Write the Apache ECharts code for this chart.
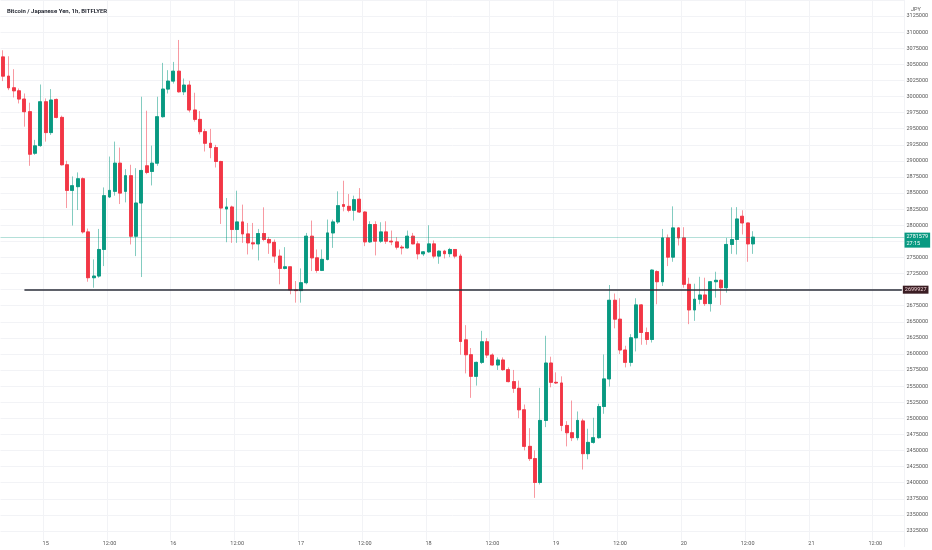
<!DOCTYPE html>
<html>
<head>
<meta charset="utf-8">
<title>BTC/JPY 1h</title>
<script src="https://cdn.jsdelivr.net/npm/echarts/dist/echarts.min.js"></script>
<style>
  html, body { margin: 0; padding: 0; background: #fff; }
  #chart { width: 932px; height: 550px; }
</style>
</head>
<body>
<div id="chart"></div>
<script>
// hourly candles, the first one opens on the 14th at 16:00
const startDay = 14
const startHour = 16
const slotCount = 170   // hours on the axis, the empty ones on the right included

const opens = [
  3061600, 3031700, 3013600, 3008900, 2996100, 2976500, 2911900, 2923800, 2991900, 2944000,
  2995500, 2967600, 2894000, 2854200, 2860000, 2872300, 2789700, 2718500, 2721100, 2762400,
  2844000, 2852700, 2896500, 2852700, 2877000, 2783000, 2834600, 2892400, 2883600, 2896500,
  2968700, 3011600, 3024000, 3039400, 3007400, 3017800, 2979100, 2964500, 2945500, 2927400,
  2920700, 2899100, 2825300, 2828400, 2793400, 2805200, 2786600, 2772700, 2771100, 2787200,
  2777900, 2773500, 2752100, 2733000, 2735500, 2699500, 2698500, 2710800, 2783000, 2749400,
  2729900, 2747000, 2788100, 2805200, 2832100, 2829400, 2823300, 2840500, 2820600, 2774200,
  2801100, 2775300, 2789700, 2775300, 2774200, 2766000, 2764800, 2783000, 2771100, 2755600,
  2758700, 2771100, 2752100, 2759800, 2755900, 2762400, 2752100, 2622000, 2598900, 2565300,
  2587000, 2619000, 2598400, 2582900, 2590700, 2575700, 2557100, 2546700, 2513300, 2456500,
  2437500, 2400400, 2496800, 2586000, 2556000, 2555000, 2489000, 2477700, 2470000, 2496000,
  2445200, 2462700, 2470000, 2518400, 2561300, 2683500, 2654100, 2606200, 2587000, 2625200,
  2676300, 2633400, 2622600, 2728000, 2712300, 2780400, 2750500, 2795900, 2780400, 2708300,
  2668500, 2685100, 2691700, 2678300, 2712300, 2714500, 2703000, 2770200, 2777900, 2814000,
  2803600, 2771100
]
const closes = [
  3031700, 3013600, 3008900, 2996100, 2976500, 2910400, 2923400, 2991900, 2944000, 2994600,
  2967600, 2894000, 2854200, 2861500, 2872300, 2789700, 2718500, 2721100, 2762400, 2846000,
  2854200, 2896500, 2850000, 2877000, 2783000, 2834600, 2885200, 2882100, 2896500, 2968700,
  3011600, 3024000, 3039400, 3007400, 3017800, 2979100, 2964500, 2945500, 2927400, 2920700,
  2899100, 2826800, 2828400, 2793400, 2805200, 2786600, 2772700, 2771100, 2787200, 2777900,
  2772700, 2752100, 2733000, 2735500, 2699500, 2698500, 2710800, 2783000, 2749400, 2729900,
  2747000, 2788100, 2805200, 2830500, 2829400, 2823300, 2839800, 2820600, 2774200, 2801100,
  2775300, 2789700, 2775300, 2774200, 2766000, 2764800, 2783000, 2771100, 2755600, 2758700,
  2771100, 2752100, 2759800, 2755900, 2762400, 2752100, 2619500, 2598900, 2565300, 2587000,
  2619000, 2598400, 2582900, 2590700, 2575700, 2557100, 2546700, 2513300, 2456500, 2437500,
  2400400, 2496800, 2586000, 2556000, 2555000, 2489000, 2477700, 2470000, 2496800, 2445200,
  2462700, 2470000, 2518400, 2561300, 2683500, 2654100, 2606200, 2587000, 2625200, 2676300,
  2633400, 2622600, 2730400, 2712300, 2780400, 2750500, 2795900, 2780400, 2708300, 2668500,
  2685100, 2691700, 2678300, 2712300, 2714500, 2703000, 2770200, 2777900, 2809800, 2803600,
  2771100, 2781579
]
const lows = [
  3024000, 3010000, 2998600, 2989300, 2953200, 2892400, 2909400, 2921800, 2930000, 2940400,
  2966100, 2892900, 2826800, 2799600, 2823700, 2787200, 2712300, 2703000, 2718500, 2736600,
  2842300, 2846000, 2833000, 2835600, 2770200, 2752100, 2719600, 2879400, 2861900, 2892400,
  2967200, 3004800, 3020200, 3006000, 3002300, 2975400, 2961000, 2941300, 2914600, 2904200,
  2889800, 2802100, 2773700, 2772700, 2772700, 2772700, 2754700, 2762400, 2745400, 2775300,
  2755600, 2741700, 2708300, 2731500, 2692800, 2679800, 2679800, 2708300, 2728900, 2726200,
  2728900, 2745400, 2764900, 2802100, 2821700, 2820200, 2807300, 2819100, 2767600, 2772700,
  2753200, 2772700, 2771100, 2769100, 2762400, 2754700, 2763800, 2770500, 2747000, 2752100,
  2757200, 2748500, 2740200, 2748500, 2750500, 2748500, 2598900, 2569900, 2531900, 2550900,
  2584500, 2593800, 2581900, 2575200, 2574100, 2556000, 2539600, 2500300, 2450300, 2433800,
  2376500, 2397300, 2486400, 2548300, 2553500, 2480200, 2456500, 2464700, 2465800, 2420500,
  2436400, 2460700, 2468400, 2507100, 2549400, 2639900, 2600000, 2579200, 2580800, 2604000,
  2614400, 2614400, 2617900, 2677300, 2705700, 2736600, 2743300, 2768600, 2703000, 2646400,
  2651500, 2677300, 2674700, 2665900, 2687600, 2676300, 2695300, 2755600, 2754700, 2785700,
  2743300, 2755600
]
const highs = [
  3071900, 3062600, 3042500, 3012500, 3004800, 2990400, 2932700, 3018700, 2997000, 3011600,
  2997000, 2970300, 2900200, 2875900, 2882100, 2874300, 2794900, 2747000, 2794300, 2858800,
  2906800, 2930000, 2920700, 2887200, 2894000, 2888700, 2999700, 2978000, 2923800, 2999700,
  3052300, 3041000, 3053800, 3087900, 3028000, 3024400, 3005900, 2977500, 2949700, 2949700,
  2924900, 2900200, 2842300, 2830500, 2853700, 2832100, 2803600, 2803600, 2794300, 2827900,
  2781900, 2777900, 2762400, 2766000, 2735600, 2713400, 2733000, 2788100, 2807300, 2762400,
  2762400, 2808900, 2808900, 2852700, 2869200, 2848500, 2846000, 2857800, 2821700, 2806200,
  2806200, 2804700, 2806200, 2791800, 2781500, 2769100, 2791800, 2788100, 2775300, 2759800,
  2800000, 2776400, 2760900, 2761800, 2764900, 2763000, 2755600, 2644800, 2609300, 2588100,
  2636000, 2624700, 2600900, 2594700, 2594700, 2579200, 2575200, 2558700, 2521500, 2484800,
  2450300, 2547400, 2628300, 2595800, 2571500, 2565300, 2495700, 2527700, 2510700, 2499400,
  2483900, 2500900, 2522600, 2599300, 2707200, 2694000, 2686600, 2612800, 2630900, 2686600,
  2677500, 2641100, 2731500, 2730000, 2794300, 2785700, 2829400, 2797000, 2797000, 2718500,
  2709200, 2720000, 2718500, 2713400, 2727800, 2716000, 2780400, 2827900, 2828200, 2823300,
  2804000, 2790800
]

// horizontal level drawn by hand, starting at the 5th candle
const levelPrice = 2699927
const levelStart = 4
const lastPrice = 2781579
const countdown = '27:15'

// price scale
const yMin = 2300000
const yMax = 3150000
const yStep = 25000

const upColor = '#089981'
const downColor = '#F23645'

// category labels: "15 00:00", "15 01:00", ...
const categories = []
for (let i = 0; i < slotCount; i++) {
  const t = startHour + i
  const day = startDay + Math.floor(t / 24)
  const hour = t % 24
  categories.push(day + ' ' + (hour < 10 ? '0' + hour : hour) + ':00')
}

function hourOf(cat) {
  return parseInt(cat.split(' ')[1], 10)
}
function isMajor(index, cat) {
  const h = hourOf(cat)
  return h === 0 || h === 12
}

const candleData = opens.map((o, i) => [o, closes[i], lows[i], highs[i]])
const bodyData = opens.map((o, i) => [o, closes[i], Math.min(o, closes[i]), Math.max(o, closes[i])])

const chart = echarts.init(document.getElementById('chart'), null, {renderer: 'canvas'})

chart.setOption({
  animation: false,
  backgroundColor: '#ffffff',
  textStyle: {fontFamily: 'Roboto, "Liberation Sans", sans-serif'},
  title: [
    {
      text: 'Bitcoin / Japanese Yen, 1h, BITFLYER',
      left: 2,
      top: 3,
      textStyle: {fontSize: 6, fontWeight: 600, color: '#131722'}
    },
    {
      text: 'JPY',
      left: 906,
      top: 2,
      textStyle: {fontSize: 5.5, fontWeight: 'normal', color: '#555'}
    }
  ],
  grid: {
    left: 0.5,
    width: 904,
    top: -2.2,
    height: 549.3
  },
  xAxis: {
    type: 'category',
    data: categories,
    boundaryGap: true,
    offset: -13,
    axisLine: {show: false},
    axisTick: {show: false},
    axisLabel: {
      interval: isMajor,
      fontSize: 5.5,
      color: '#555',
      margin: 6,
      backgroundColor: '#fff',
      padding: [1, 2],
      formatter: function (cat) {
        const h = hourOf(cat)
        return h === 0 ? cat.split(' ')[0] : '12:00'
      }
    },
    splitLine: {
      show: true,
      interval: isMajor,
      lineStyle: {color: '#f2f3f6', width: 1}
    }
  },
  yAxis: {
    type: 'value',
    position: 'right',
    min: yMin,
    max: yMax,
    interval: yStep,
    scale: true,
    axisLine: {show: false},
    axisTick: {show: false},
    axisLabel: {
      fontSize: 5.5,
      color: '#555',
      margin: 2,
      showMinLabel: false,
      showMaxLabel: false,
      formatter: function (v) { return String(v) }
    },
    splitLine: {
      show: true,
      showMinLine: false,
      lineStyle: {color: '#f2f3f6', width: 1}
    }
  },
  series: [
    {
      // wicks, drawn lighter like the reference
      name: 'wick',
      type: 'candlestick',
      data: candleData,
      barWidth: 3.4,
      itemStyle: {
        color: 'rgba(8,153,129,0.5)',
        color0: 'rgba(242,54,69,0.5)',
        borderColor: 'rgba(8,153,129,0.5)',
        borderColor0: 'rgba(242,54,69,0.5)',
        borderWidth: 1
      },
      silent: true
    },
    {
      // bodies on top
      name: 'BTCJPY',
      type: 'candlestick',
      data: bodyData,
      barWidth: 3.4,
      itemStyle: {
        color: upColor,
        color0: downColor,
        borderColor: upColor,
        borderColor0: downColor,
        borderWidth: 0.8
      },
      markLine: {
        silent: true,
        symbol: ['none', 'none'],
        data: [
          {
            yAxis: lastPrice,
            lineStyle: {color: 'rgba(8,153,129,0.3)', width: 1, type: 'solid'},
            label: {
              show: true,
              position: 'end',
              distance: 0,
              formatter: lastPrice + '\n' + countdown,
              backgroundColor: upColor,
              color: '#fff',
              fontSize: 5.5,
              lineHeight: 6.5,
              padding: [1, 2, 1, 2],
              align: 'left',
              offset: [0, 3]
            }
          },
          [
            {
              coord: [levelStart, levelPrice],
              lineStyle: {color: '#2a2e39', width: 1.5, type: 'solid'},
              label: {
                show: true,
                position: 'end',
                distance: 1,
                formatter: String(levelPrice),
                backgroundColor: '#3a1d23',
                color: '#f3d6da',
                fontSize: 5.5,
                padding: [1, 2, 1, 2]
              }
            },
            {coord: [slotCount - 1, levelPrice]}
          ]
        ]
      }
    }
  ]
})
</script>
</body>
</html>
